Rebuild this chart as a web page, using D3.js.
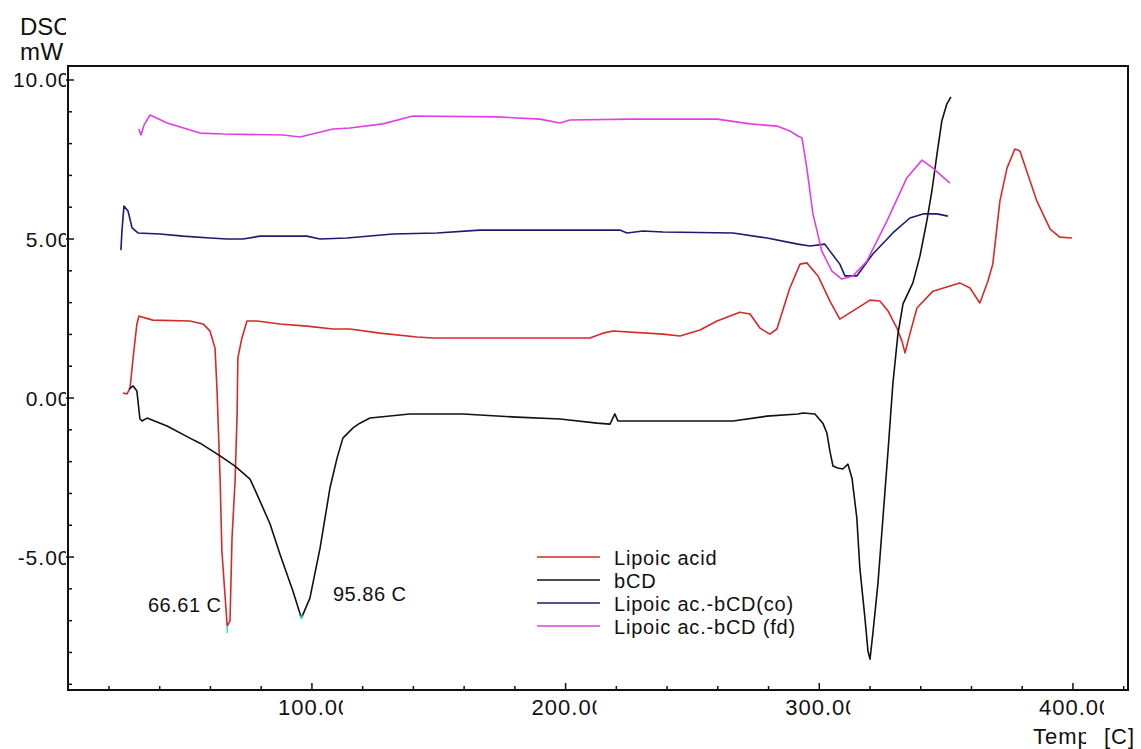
<!DOCTYPE html>
<html>
<head>
<meta charset="utf-8">
<script src="https://cdn.jsdelivr.net/npm/d3@7"></script>
<style>
  body { margin:0; background:#fff; }
  text { font-family: "Liberation Sans", Arial, sans-serif; fill:#111; }
</style>
</head>
<body>
<div id="plotarea"></div>
<script>
// DSC curves as [Temp C, mW]
var lipoicAcid = [[25.5,0.16],[27.1,0.13],[28.3,0.31],[29.5,1.26],[31.0,2.33],[31.8,2.58],[34.2,2.52],[37.3,2.45],
  [51.9,2.42],[57.1,2.33],[59.8,2.11],[61.8,1.57],[62.6,0.22],[63.8,-2.52],[64.5,-4.81],[65.7,-6.16],[66.61,-7.17],
  [67.7,-7.01],[68.5,-4.40],[69.7,-2.61],[70.5,-0.50],[70.8,1.26],[72.4,1.89],[74.4,2.42],[78.3,2.42],[87.4,2.33],
  [98.0,2.26],[108.3,2.17],[115.0,2.17],[126.8,2.04],[141.4,1.92],[147.7,1.89],[209.6,1.89],[214.7,2.04],[218.7,2.11],
  [238.4,2.01],[245.1,1.95],[253.0,2.14],[259.7,2.42],[268.7,2.70],[272.7,2.64],[276.6,2.20],[280.5,2.01],[283.3,2.17],
  [288.4,3.46],[292.4,4.21],[295.1,4.25],[299.5,3.84],[304.2,3.05],[308.1,2.48],[313.3,2.74],[320.0,3.08],[323.9,3.05],
  [327.1,2.74],[330.6,2.20],[332.6,1.79],[333.8,1.42],[335.7,2.01],[338.5,2.83],[344.8,3.36],[355.4,3.62],[359.4,3.46],
  [363.3,2.99],[366.5,3.68],[368.4,4.21],[371.2,6.19],[374.0,7.23],[377.1,7.83],[379.1,7.77],[385.8,6.19],[391.0,5.31],
  [394.8,5.06],[399.6,5.03]];

var bCD = [[27.9,0.28],[29.5,0.38],[31.0,0.22],[32.2,-0.66],[33.0,-0.72],[35.0,-0.63],[42.9,-0.88],[51.9,-1.26],
  [55.9,-1.42],[63.8,-1.82],[69.7,-2.14],[75.6,-2.55],[78.3,-3.02],[83.5,-3.96],[87.4,-4.91],[92.5,-6.07],[95.86,-6.92],
  [99.2,-6.29],[103.2,-4.72],[107.1,-2.83],[109.9,-1.89],[112.2,-1.26],[116.2,-0.94],[118.9,-0.79],[122.9,-0.63],
  [138.6,-0.50],[159.5,-0.50],[180.8,-0.60],[197.8,-0.66],[212.4,-0.79],[217.5,-0.82],[219.4,-0.50],[220.6,-0.72],
  [266.0,-0.72],[279.4,-0.57],[291.6,-0.50],[293.6,-0.47],[298.3,-0.50],[301.4,-0.79],[303.0,-1.10],[304.2,-1.67],
  [305.4,-2.14],[307.3,-2.20],[309.3,-2.23],[311.3,-2.08],[312.9,-2.52],[314.8,-3.77],[316.0,-5.35],[318.0,-6.92],
  [319.2,-7.96],[320.0,-8.21],[321.1,-7.42],[323.1,-5.85],[325.1,-3.77],[327.1,-1.67],[329.0,0.44],[331.0,2.01],
  [333.0,2.96],[336.9,3.62],[339.7,4.47],[342.4,5.57],[344.4,6.51],[346.4,7.67],[348.3,8.71],[350.3,9.25],[351.9,9.47]];

var lipoicCo = [[24.7,4.65],[25.1,5.25],[25.9,6.04],[27.5,5.88],[29.1,5.35],[31.4,5.19],[40.1,5.16],[49.2,5.09],
  [59.8,5.03],[66.5,5.00],[72.8,5.00],[79.5,5.09],[98.0,5.09],[103.2,5.00],[113.8,5.03],[131.9,5.16],[149.3,5.19],
  [166.2,5.28],[221.4,5.28],[224.2,5.19],[230.5,5.25],[238.4,5.22],[266.0,5.19],[279.4,5.03],[291.6,4.84],[296.3,4.78],
  [302.2,4.84],[304.2,4.62],[308.1,4.21],[310.1,3.84],[314.8,3.84],[321.1,4.53],[329.0,5.19],[335.7,5.66],[340.9,5.79],
  [346.4,5.79],[350.7,5.72]];

var lipoicFd = [[31.8,8.46],[32.6,8.27],[33.8,8.58],[36.2,8.90],[42.9,8.65],[55.9,8.33],[64.9,8.30],[88.6,8.27],
  [95.3,8.21],[108.3,8.46],[115.0,8.49],[128.0,8.62],[139.8,8.87],[172.9,8.84],[189.9,8.77],[197.8,8.65],[201.7,8.74],
  [225.4,8.77],[259.7,8.77],[272.7,8.62],[283.3,8.55],[288.4,8.40],[291.6,8.24],[293.2,8.18],[295.1,7.23],[297.5,5.79],
  [301.0,4.62],[305.0,3.99],[308.9,3.74],[313.3,3.84],[318.8,4.31],[326.7,5.57],[334.5,6.92],[340.5,7.48],[344.8,7.23],
  [351.5,6.76]];

var seriesNames = ["Lipoic acid","bCD","Lipoic ac.-bCD(co)","Lipoic ac.-bCD (fd)"];
var seriesColors = ["#d42a2a","#111111","#1c1c6e","#e040e0"];
var xTickLabels = ["100.00","200.00","300.00","400.00"];
var yTickLabels = ["10.00","5.00","0.00","-5.00"];
var peaks = [[66.61,-7.17,"66.61 C"],[95.86,-6.92,"95.86 C"]];

var W = 1141, H = 749;
var margin_left = 68, margin_top = 66, plot_right = 1128, plot_bottom = 690;

var svg = d3.select("#plotarea").append("svg")
  .attr("width", W).attr("height", H);

var x = d3.scaleLinear().domain([3.84, 421.7]).range([margin_left, plot_right]);
var y = d3.scaleLinear().domain([-9.18, 10.44]).range([plot_bottom, margin_top]);

var defs = svg.append("defs");
defs.append("clipPath").attr("id","clipLeft")
  .append("rect").attr("x",0).attr("y",0).attr("width",66).attr("height",H);

// frame
svg.append("rect")
  .attr("x", margin_left).attr("y", margin_top)
  .attr("width", plot_right - margin_left).attr("height", plot_bottom - margin_top)
  .attr("fill","none").attr("stroke","#111").attr("stroke-width",2);

// minor + major ticks pointing inward
var yTicks = d3.range(-9, 11, 1);
svg.append("g").selectAll("line").data(yTicks).enter().append("line")
  .attr("x1", function(d){ return d % 5 === 0 ? margin_left - 2 : margin_left; })
  .attr("x2", function(d){ return d % 5 === 0 ? margin_left + 6 : margin_left + 4; })
  .attr("y1", function(d){ return y(d); }).attr("y2", function(d){ return y(d); })
  .attr("stroke","#111").attr("stroke-width",1.5);

var xTicks = d3.range(20, 421, 20);
svg.append("g").selectAll("line").data(xTicks).enter().append("line")
  .attr("x1", function(d){ return x(d); }).attr("x2", function(d){ return x(d); })
  .attr("y1", plot_bottom)
  .attr("y2", function(d){ return d % 100 === 0 ? plot_bottom - 7 : plot_bottom - 4; })
  .attr("stroke","#111").attr("stroke-width",1.5);

// y labels (cut off by the frame like in the original)
svg.append("g").attr("clip-path","url(#clipLeft)")
  .selectAll("text").data(yTickLabels).enter().append("text")
  .attr("x", 70.5).attr("y", function(d){ return y(+d) + 7.5; })
  .attr("text-anchor","end")
  .style("font-size","21px").style("letter-spacing","1px")
  .text(function(d){ return d; });

var leftTitle = svg.append("g").attr("clip-path","url(#clipLeft)");
leftTitle.append("text").attr("x",20).attr("y",35).style("font-size","24px").text("DSC");
leftTitle.append("text").attr("x",20).attr("y",60).style("font-size","24px").style("letter-spacing","0.5px").text("mW");

// x labels, last digit clipped
xTickLabels.forEach(function(lab, i){
  var cx = x(+lab);
  defs.append("clipPath").attr("id","clipX" + i)
    .append("rect").attr("x", cx - 40).attr("y", 690).attr("width", 71).attr("height", 40);
  svg.append("text")
    .attr("clip-path","url(#clipX" + i + ")")
    .attr("x", cx - 34).attr("y", 715)
    .style("font-size","22px").style("letter-spacing","1px")
    .text(lab);
});

defs.append("clipPath").attr("id","clipTemp")
  .append("rect").attr("x",1020).attr("y",720).attr("width",66).attr("height",29);
svg.append("text").attr("clip-path","url(#clipTemp)")
  .attr("x",1033).attr("y",744).style("font-size","22px").style("letter-spacing","1px").text("Temp");
svg.append("text").attr("x",1104).attr("y",744).style("font-size","22px").style("letter-spacing","1px").text("[C]");

// curves
var line = d3.line()
  .x(function(d){ return x(d[0]); })
  .y(function(d){ return y(d[1]); });

var allSeries = [lipoicAcid, bCD, lipoicCo, lipoicFd];
allSeries.forEach(function(s, i){
  svg.append("path").datum(s)
    .attr("d", line)
    .attr("fill","none")
    .attr("stroke", seriesColors[i])
    .attr("stroke-width",1.6)
    .attr("stroke-linejoin","round");
});

// peak markers and labels
svg.append("line")
  .attr("x1", x(peaks[0][0])).attr("x2", x(peaks[0][0]))
  .attr("y1", y(peaks[0][1])).attr("y2", y(peaks[0][1]) + 7)
  .attr("stroke","#33dddd").attr("stroke-width",1.5);
svg.append("path")
  .attr("d", "M" + (x(peaks[1][0]) - 2) + "," + (y(peaks[1][1]) - 3) + "L" + x(peaks[1][0]) + "," + y(peaks[1][1]) +
             "L" + (x(peaks[1][0]) + 2) + "," + (y(peaks[1][1]) - 3))
  .attr("fill","none").attr("stroke","#33dddd").attr("stroke-width",1.5);

svg.append("text").attr("x",148).attr("y",612)
  .style("font-size","20px").style("letter-spacing","0.5px").text(peaks[0][2]);
svg.append("text").attr("x",333).attr("y",601)
  .style("font-size","20px").style("letter-spacing","0.5px").text(peaks[1][2]);

// legend
var legend = svg.append("g");
seriesNames.forEach(function(name, i){
  var ly = 557 + i * 23;
  legend.append("line")
    .attr("x1",537).attr("x2",600).attr("y1",ly).attr("y2",ly)
    .attr("stroke", seriesColors[i]).attr("stroke-width",1.6);
  legend.append("text")
    .attr("x",614).attr("y",ly + 8)
    .style("font-size","20px").style("letter-spacing","0.8px")
    .text(name);
});
</script>
</body>
</html>
